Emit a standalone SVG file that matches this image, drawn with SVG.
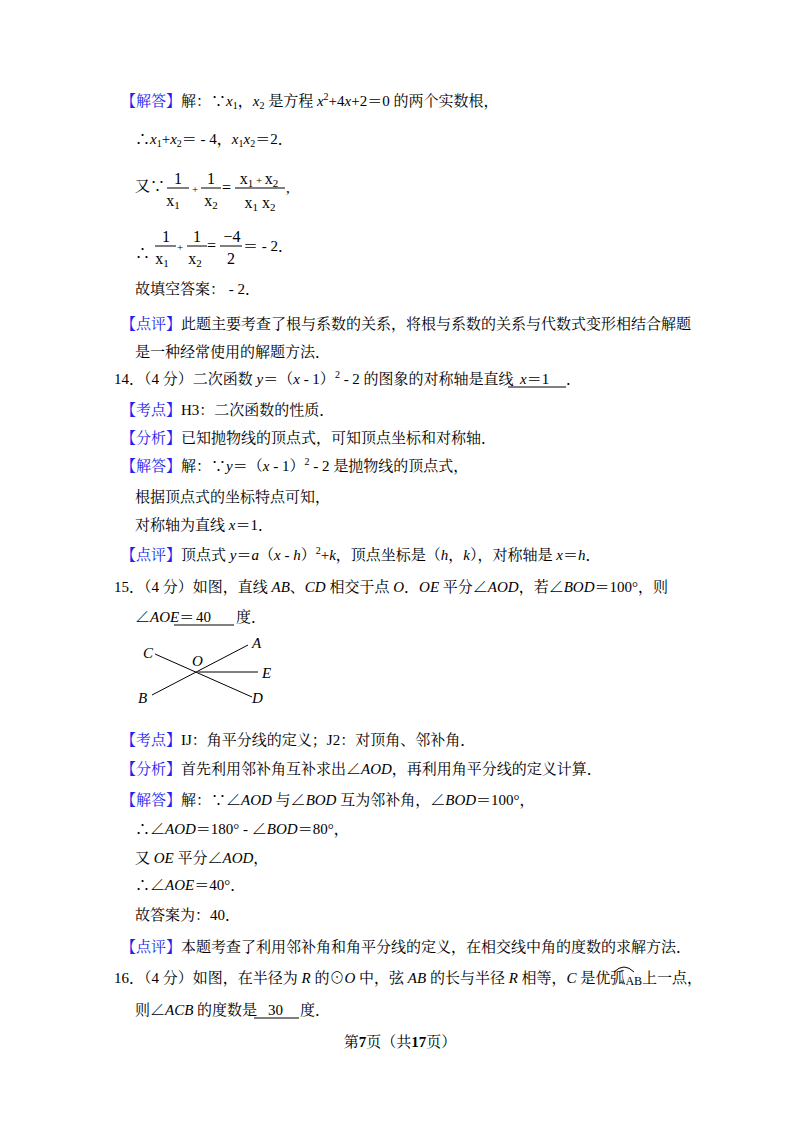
<svg xmlns="http://www.w3.org/2000/svg" width="800" height="1132" viewBox="0 0 800 1132">
<style>
text{font-family:"Liberation Serif","Noto Serif CJK SC","Noto Sans CJK SC",serif;font-size:15px;fill:#000}
.b{fill:#2222ee}
.i{font-style:italic}
.s{font-size:10px}
.m{font-family:"Liberation Serif","DejaVu Serif",serif;font-size:16px}
.ms{font-family:"Liberation Serif","DejaVu Serif",serif;font-size:11px}
line{stroke:#000;stroke-width:1}
</style>
<rect width="800" height="1132" fill="#fff"/>
<g id="text">
<text x="121" y="106"><tspan class="b">【解答】</tspan>解：∵<tspan class="i">x</tspan><tspan class="s" dy="3">1</tspan><tspan dy="-3">，</tspan><tspan class="i">x</tspan><tspan class="s" dy="3">2</tspan><tspan dy="-3"> 是方程 </tspan><tspan class="i">x</tspan><tspan class="s" dy="-6">2</tspan><tspan dy="6">+4</tspan><tspan class="i">x</tspan><tspan>+2＝0 的两个实数根，</tspan></text>
<text x="135" y="144">∴<tspan class="i">x</tspan><tspan class="s" dy="3">1</tspan><tspan dy="-3">+</tspan><tspan class="i">x</tspan><tspan class="s" dy="3">2</tspan><tspan dy="-3">＝ - 4，</tspan><tspan class="i">x</tspan><tspan class="s" dy="3">1</tspan><tspan class="i" dy="-3">x</tspan><tspan class="s" dy="3">2</tspan><tspan dy="-3">＝2．</tspan></text>
</g>
<g id="frac1">
<text x="135" y="191">又∵</text>
<text class="m" x="178" y="184" text-anchor="middle">1</text>
<line x1="167" y1="188" x2="189" y2="188"/>
<text class="m" x="173" y="206" text-anchor="middle">x<tspan class="ms" dy="3">1</tspan></text>
<text class="ms" x="192" y="193">+</text>
<text class="m" x="211" y="184" text-anchor="middle">1</text>
<line x1="201" y1="188" x2="221" y2="188"/>
<text class="m" x="211" y="206" text-anchor="middle">x<tspan class="ms" dy="3">2</tspan></text>
<text class="m" x="222" y="193">=</text>
<text class="m" x="259" y="184" text-anchor="middle">x<tspan class="ms" dy="3">1</tspan><tspan class="ms" dy="-3"> + </tspan>x<tspan class="ms" dy="3">2</tspan></text>
<line x1="235" y1="188" x2="285" y2="188"/>
<text class="m" x="260" y="208" text-anchor="middle">x<tspan class="ms" dy="3">1</tspan><tspan dy="-3"> x</tspan><tspan class="ms" dy="3">2</tspan></text>
<text x="286" y="193">,</text>
</g>
<g id="frac2">
<text x="135" y="258">∴</text>
<text class="m" x="166" y="242" text-anchor="middle">1</text>
<line x1="155" y1="246" x2="176" y2="246"/>
<text class="m" x="162" y="264" text-anchor="middle">x<tspan class="ms" dy="3">1</tspan></text>
<text class="ms" x="177" y="251">+</text>
<text class="m" x="197" y="242" text-anchor="middle">1</text>
<line x1="187" y1="246" x2="207" y2="246"/>
<text class="m" x="195" y="264" text-anchor="middle">x<tspan class="ms" dy="3">2</tspan></text>
<text class="m" x="207" y="251">=</text>
<text class="m" x="232" y="242" text-anchor="middle">−4</text>
<line x1="220" y1="246" x2="242" y2="246"/>
<text class="m" x="231" y="264" text-anchor="middle">2</text>
<text x="243" y="251">＝ - 2．</text>
</g>
<g id="body">
<text x="135" y="294">故填空答案： - 2．</text>
<text x="121" y="329"><tspan class="b">【点评】</tspan>此题主要考查了根与系数的关系，将根与系数的关系与代数式变形相结合解题</text>
<text x="135" y="357">是一种经常使用的解题方法．</text>
<text x="114" y="384">14．（4 分）二次函数 <tspan class="i">y</tspan>＝（<tspan class="i">x</tspan> - 1）<tspan class="s" dy="-6">2</tspan><tspan dy="6"> - 2 的图象的对称轴是直线</tspan></text>
<text x="520" y="384"><tspan class="i">x</tspan>＝1</text>
<text x="566" y="384">．</text>
<line x1="508" y1="387" x2="566" y2="387"/>
<text x="121" y="415"><tspan class="b">【考点】</tspan>H3：二次函数的性质．</text>
<text x="121" y="443"><tspan class="b">【分析】</tspan>已知抛物线的顶点式，可知顶点坐标和对称轴．</text>
<text x="121" y="471"><tspan class="b">【解答】</tspan>解：∵<tspan class="i">y</tspan>＝（<tspan class="i">x</tspan> - 1）<tspan class="s" dy="-6">2</tspan><tspan dy="6"> - 2 是抛物线的顶点式，</tspan></text>
<text x="135" y="502">根据顶点式的坐标特点可知，</text>
<text x="135" y="530">对称轴为直线 <tspan class="i">x</tspan>＝1．</text>
<text x="121" y="560"><tspan class="b">【点评】</tspan>顶点式 <tspan class="i">y</tspan>＝<tspan class="i">a</tspan>（<tspan class="i">x</tspan> - <tspan class="i">h</tspan>）<tspan class="s" dy="-6">2</tspan><tspan dy="6">+</tspan><tspan class="i">k</tspan>，顶点坐标是（<tspan class="i">h</tspan>，<tspan class="i">k</tspan>），对称轴是 <tspan class="i">x</tspan>＝<tspan class="i">h</tspan>．</text>
<text x="114" y="592">15．（4 分）如图，直线 <tspan class="i">AB</tspan>、<tspan class="i">CD</tspan> 相交于点 <tspan class="i">O</tspan>．<tspan class="i">OE</tspan> 平分∠<tspan class="i">AOD</tspan>，若∠<tspan class="i">BOD</tspan>＝100°，则</text>
<text x="135" y="622">∠<tspan class="i">AOE</tspan>＝</text>
<text x="196" y="622">40</text>
<text x="236" y="622">度．</text>
<line x1="174" y1="625" x2="234" y2="625"/>
</g>
<g id="figure">
<line x1="155" y1="654" x2="252" y2="697"/>
<line x1="152" y1="695" x2="248" y2="645"/>
<line x1="198" y1="672" x2="258" y2="672"/>
<text class="i" x="143" y="658">C</text>
<text class="i" x="252" y="648">A</text>
<text class="i" x="192" y="666">O</text>
<text class="i" x="262" y="678">E</text>
<text class="i" x="138" y="703">B</text>
<text class="i" x="252" y="703">D</text>
</g>
<g id="body2">
<text x="121" y="745"><tspan class="b">【考点】</tspan>IJ：角平分线的定义；J2：对顶角、邻补角．</text>
<text x="121" y="774"><tspan class="b">【分析】</tspan>首先利用邻补角互补求出∠<tspan class="i">AOD</tspan>，再利用角平分线的定义计算．</text>
<text x="121" y="805"><tspan class="b">【解答】</tspan>解：∵∠<tspan class="i">AOD</tspan> 与∠<tspan class="i">BOD</tspan> 互为邻补角，∠<tspan class="i">BOD</tspan>＝100°，</text>
<text x="135" y="834">∴∠<tspan class="i">AOD</tspan>＝180° - ∠<tspan class="i">BOD</tspan>＝80°，</text>
<text x="135" y="863">又 <tspan class="i">OE</tspan> 平分∠<tspan class="i">AOD</tspan>，</text>
<text x="135" y="890">∴∠<tspan class="i">AOE</tspan>＝40°．</text>
<text x="135" y="920">故答案为：40．</text>
<text x="121" y="952"><tspan class="b">【点评】</tspan>本题考查了利用邻补角和角平分线的定义，在相交线中角的度数的求解方法．</text>
<text x="114" y="983">16．（4 分）如图，在半径为 <tspan class="i">R</tspan> 的⊙<tspan class="i">O</tspan> 中，弦 <tspan class="i">AB</tspan> 的长与半径 <tspan class="i">R</tspan> 相等，<tspan class="i">C</tspan> 是优弧<tspan font-size="12px" dy="2">AB</tspan><tspan dy="-2">上一点，</tspan></text>
<path d="M614 972 Q624 962 634 972" fill="none" stroke="#000" stroke-width="1"/>
<text x="135" y="1015">则∠<tspan class="i">ACB</tspan> 的度数是</text>
<text x="268" y="1015">30</text>
<text x="300" y="1015">度．</text>
<line x1="254" y1="1018" x2="299" y2="1018"/>
<text x="400" y="1047" text-anchor="middle" font-size="13px">第<tspan font-weight="bold" font-size="15px">7</tspan>页（共<tspan font-weight="bold" font-size="15px">17</tspan>页）</text>
</g>
</svg>
